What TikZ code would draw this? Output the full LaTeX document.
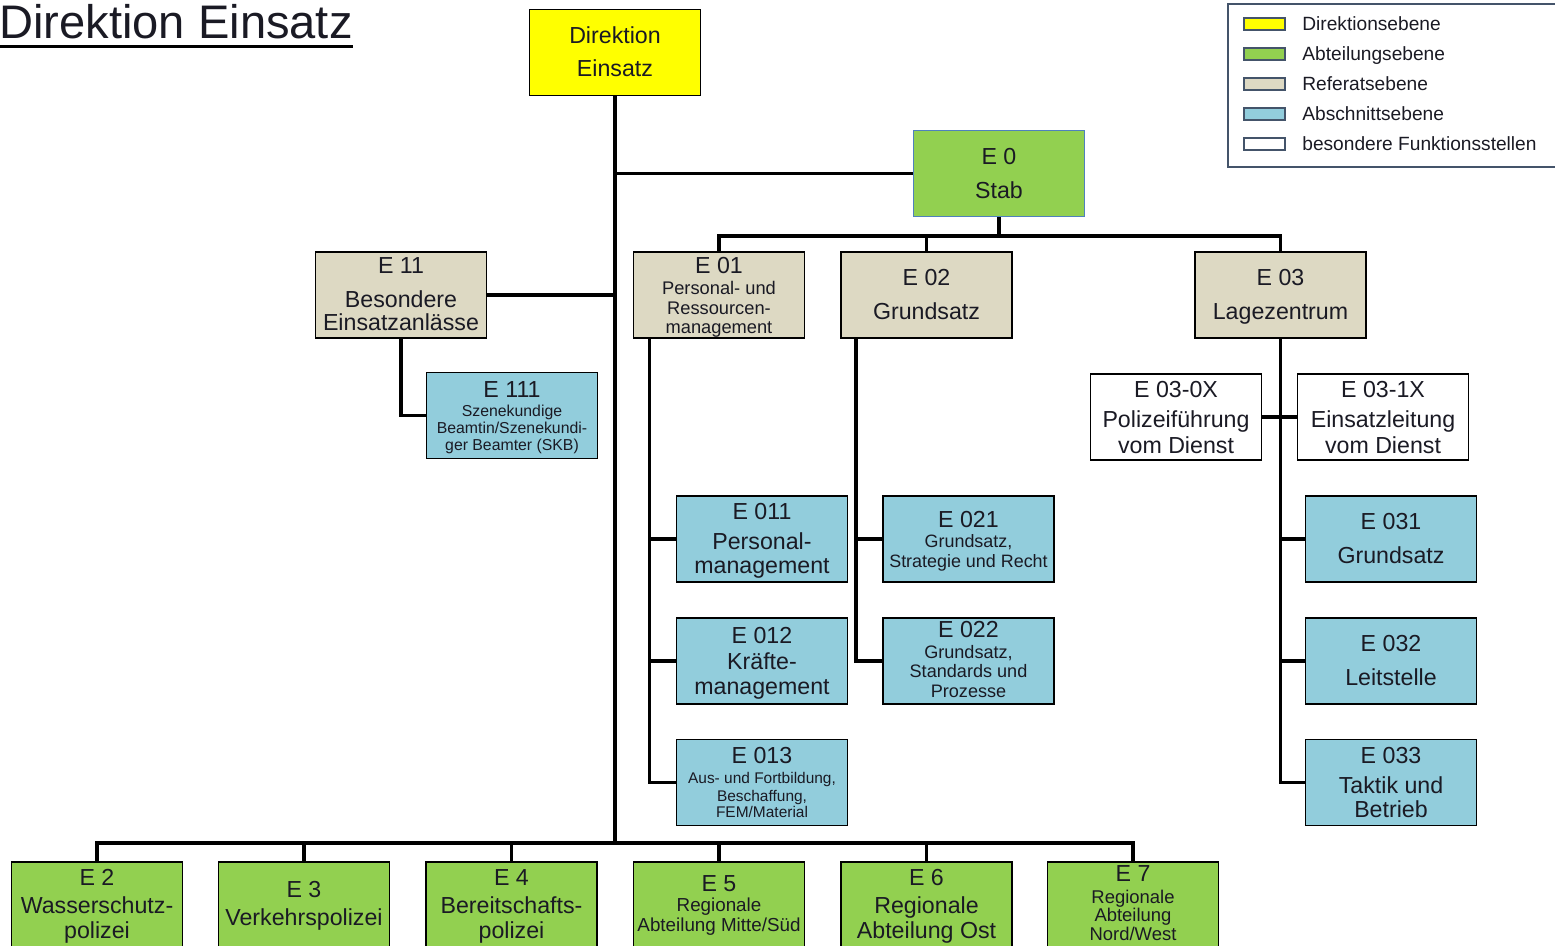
\documentclass[tikz,border=0pt]{standalone}
\usepackage{fontspec}
\setmainfont{Liberation Sans}
\usetikzlibrary{calc}
\definecolor{dirgelb}{HTML}{FFFF00}
\definecolor{abtgruen}{HTML}{92D050}
\definecolor{refbeige}{HTML}{DDD9C3}
\definecolor{abschblau}{HTML}{92CDDC}
\definecolor{stabrand}{HTML}{4F81BD}
\definecolor{legrand}{HTML}{44546A}
\definecolor{txtcol}{HTML}{1A1A24}
\newcommand{\tline}[5]{\node[txt,font=\fontsize{#4}{#4}\selectfont,yshift={-0.36*#4pt}] (#1) at (#2,#3) {#5};}
\newcommand{\lgline}[4]{\node[lgtxt,yshift={-0.36*10.9pt}] (#1) at (#2,#3) {#4};}
\begin{document}
\begin{tikzpicture}[x=0.02cm,y=-0.02cm,
  box/.style={draw=black,line width=1pt,minimum width=3.42cm,minimum height=1.72cm,inner sep=0pt},
  conn/.style={line width=2pt},
  txt/.style={anchor=base,inner sep=0pt,text=txtcol},
  lgtxt/.style={anchor=base west,inner sep=0pt,text=txtcol,font=\fontsize{10.9}{10.9}\selectfont},
  swatch/.style={draw=legrand,line width=1pt,minimum width=0.82cm,minimum height=0.24cm,inner sep=0pt}]
\useasboundingbox (0,0) rectangle (1555,946);

% title
\node[font=\fontsize{26.8}{26.8}\selectfont,anchor=base west,inner sep=0pt,text=txtcol] (title) at (-1,39) {Direktion Einsatz};
\draw[line width=1.7pt] ([yshift=-4.3pt]title.base west) -- ([yshift=-4.3pt]title.base east);

% boxes
\node[box,fill=dirgelb] (dir) at (615,52.5) {};
\node[box,fill=abtgruen,draw=stabrand] (e0) at (999,173.5) {};
\node[box,fill=refbeige] (e11) at (401,295) {};
\node[box,fill=refbeige] (e01) at (719,295) {};
\node[box,fill=refbeige] (e02) at (926.5,295) {};
\node[box,fill=refbeige] (e03) at (1280.5,295) {};
\node[box,fill=abschblau] (e111) at (512,415.5) {};
\node[box,fill=white] (e030x) at (1176,417) {};
\node[box,fill=white] (e031x) at (1383,417) {};
\node[box,fill=abschblau] (e011) at (762,539) {};
\node[box,fill=abschblau] (e021) at (968.5,539) {};
\node[box,fill=abschblau] (e031) at (1391,539) {};
\node[box,fill=abschblau] (e012) at (762,661) {};
\node[box,fill=abschblau] (e022) at (968.5,661) {};
\node[box,fill=abschblau] (e032) at (1391,661) {};
\node[box,fill=abschblau] (e013) at (762,782.5) {};
\node[box,fill=abschblau] (e033) at (1391,782.5) {};
\node[box,fill=abtgruen] (b2) at (97,905) {};
\node[box,fill=abtgruen] (b3) at (304,905) {};
\node[box,fill=abtgruen] (b4) at (511.5,905) {};
\node[box,fill=abtgruen] (b5) at (719,905) {};
\node[box,fill=abtgruen] (b6) at (926.5,905) {};
\node[box,fill=abtgruen] (b7) at (1133,905) {};

% texts
\tline{dira}{615}{35}{13.2}{Direktion}
\tline{dirb}{615}{68}{13.2}{Einsatz}
\tline{e0a}{999}{156}{13.2}{E 0}
\tline{e0b}{999}{190}{13.2}{Stab}
\tline{e11a}{401}{265}{13.2}{E 11}
\tline{e11b}{401}{299}{13.2}{Besondere}
\tline{e11c}{401}{322}{13.2}{Einsatzanlässe}
\tline{e01a}{719}{265}{13.2}{E 01}
\tline{e01b}{719}{288}{10.4}{Personal- und}
\tline{e01c}{719}{308}{10.4}{Ressourcen-}
\tline{e01d}{719}{327}{10.4}{management}
\tline{e02a}{926.5}{277}{13.2}{E 02}
\tline{e02b}{926.5}{311}{13.2}{Grundsatz}
\tline{e03a}{1280.5}{277}{13.2}{E 03}
\tline{e03b}{1280.5}{311}{13.2}{Lagezentrum}
\tline{e111a}{512}{389}{13.2}{E 111}
\tline{e111b}{512}{411}{9}{Szenekundige}
\tline{e111c}{512}{428}{9}{Beamtin/Szenekundi-}
\tline{e111d}{512}{445}{9}{ger Beamter (SKB)}
\tline{e030xa}{1176}{389}{13.2}{E 03-0X}
\tline{e030xb}{1176}{419}{13.2}{Polizeiführung}
\tline{e030xc}{1176}{445}{13.2}{vom Dienst}
\tline{e031xa}{1383}{389}{13.2}{E 03-1X}
\tline{e031xb}{1383}{419}{13.2}{Einsatzleitung}
\tline{e031xc}{1383}{445}{13.2}{vom Dienst}
\tline{e011a}{762}{511}{13.2}{E 011}
\tline{e011b}{762}{541}{13.2}{Personal-}
\tline{e011c}{762}{565}{13.2}{management}
\tline{e021a}{968.5}{519}{13.2}{E 021}
\tline{e021b}{968.5}{541}{10.2}{Grundsatz,}
\tline{e021c}{968.5}{561}{10.2}{Strategie und Recht}
\tline{e031a}{1391}{521}{13.2}{E 031}
\tline{e031b}{1391}{555}{13.2}{Grundsatz}
\tline{e012a}{762}{635}{13.2}{E 012}
\tline{e012b}{762}{661}{13.2}{Kräfte-}
\tline{e012c}{762}{686}{13.2}{management}
\tline{e022a}{968.5}{629}{13.2}{E 022}
\tline{e022b}{968.5}{652}{10.3}{Grundsatz,}
\tline{e022c}{968.5}{671}{10.3}{Standards und}
\tline{e022d}{968.5}{691}{10.3}{Prozesse}
\tline{e032a}{1391}{643}{13.2}{E 032}
\tline{e032b}{1391}{677}{13.2}{Leitstelle}
\tline{e013a}{762}{755}{13.2}{E 013}
\tline{e013b}{762}{778}{8.8}{Aus- und Fortbildung,}
\tline{e013c}{762}{796}{8.8}{Beschaffung,}
\tline{e013d}{762}{812}{8.8}{FEM/Material}
\tline{e033a}{1391}{755}{13.2}{E 033}
\tline{e033b}{1391}{785}{13.2}{Taktik und}
\tline{e033c}{1391}{809}{13.2}{Betrieb}
\tline{b2a}{97}{877}{13.2}{E 2}
\tline{b2b}{97}{905}{13.2}{Wasserschutz-}
\tline{b2c}{97}{930}{13.2}{polizei}
\tline{b3a}{304}{889}{13.2}{E 3}
\tline{b3b}{304}{917}{13.2}{Verkehrspolizei}
\tline{b4a}{511.5}{877}{13.2}{E 4}
\tline{b4b}{511.5}{905}{13.2}{Bereitschafts-}
\tline{b4c}{511.5}{930}{13.2}{polizei}
\tline{b5a}{719}{883}{13.2}{E 5}
\tline{b5b}{719}{905}{10.7}{Regionale}
\tline{b5c}{719}{925}{10.7}{Abteilung Mitte/Süd}
\tline{b6a}{926.5}{877}{13.2}{E 6}
\tline{b6b}{926.5}{905}{13.2}{Regionale}
\tline{b6c}{926.5}{930}{13.2}{Abteilung Ost}
\tline{b7a}{1133}{873}{13.2}{E 7}
\tline{b7b}{1133}{897}{10.5}{Regionale}
\tline{b7c}{1133}{915}{10.5}{Abteilung}
\tline{b7d}{1133}{934}{10.5}{Nord/West}

% connectors
\coordinate (bus) at (615,843);
\coordinate (j0) at (999,236);
\coordinate (e01s) at ($(e01.south west)+(17,0)$);
\coordinate (e02s) at ($(e02.south west)+(16,0)$);
\draw[conn] (dir.south) -- (dir.south |- bus);
\draw[conn] (dir.south |- e0.west) -- (e0.west);
\draw[conn] (e11.east) -- (e11.east -| dir.south);
\draw[conn] (e0.south) -- (j0);
\draw[conn] (e01.north) -- (e01.north |- j0) -- (e03.north |- j0) -- (e03.north);
\draw[conn] (e02.north) -- (e02.north |- j0);
\draw[conn] (e11.south) |- (e111.west);
\draw[conn] (e01s) |- (e013.west);
\draw[conn] (e01s |- e011.west) -- (e011.west);
\draw[conn] (e01s |- e012.west) -- (e012.west);
\draw[conn] (e02s) |- (e022.west);
\draw[conn] (e02s |- e021.west) -- (e021.west);
\draw[conn] (e03.south) |- (e033.west);
\draw[conn] (e03.south |- e031.west) -- (e031.west);
\draw[conn] (e03.south |- e032.west) -- (e032.west);
\draw[conn] (e030x.east) -- (e031x.west);
\draw[conn] (b2.north) |- (bus) -| (b7.north);
\draw[conn] (b3.north) -- (b3.north |- bus);
\draw[conn] (b4.north) -- (b4.north |- bus);
\draw[conn] (b5.north) -- (b5.north |- bus);
\draw[conn] (b6.north) -- (b6.north |- bus);

% legend
\node[draw=legrand,line width=1.2pt,anchor=north west,minimum width=6.9cm,minimum height=3.26cm,inner sep=0pt] (legend) at (1227,3) {};
\node[swatch,fill=dirgelb] (s1) at (1264.5,24) {};
\node[swatch,fill=abtgruen] (s2) at (1264.5,54) {};
\node[swatch,fill=refbeige] (s3) at (1264.5,84) {};
\node[swatch,fill=abschblau] (s4) at (1264.5,114) {};
\node[swatch,fill=white] (s5) at (1264.5,144) {};
\lgline{l1}{1302}{24}{Direktionsebene}
\lgline{l2}{1302}{54}{Abteilungsebene}
\lgline{l3}{1302}{84}{Referatsebene}
\lgline{l4}{1302}{114}{Abschnittsebene}
\lgline{l5}{1302}{144}{besondere Funktionsstellen}
\end{tikzpicture}
\end{document}
